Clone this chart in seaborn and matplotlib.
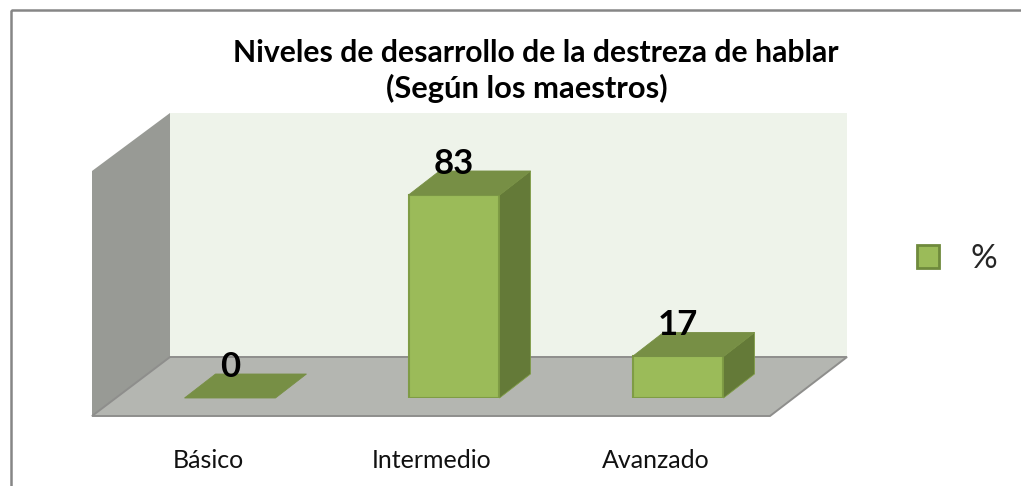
import matplotlib
matplotlib.use("Agg")
import matplotlib.pyplot as plt
import seaborn as sns
import pandas as pd
from matplotlib.patches import Patch, Polygon, Rectangle
from matplotlib.transforms import ScaledTranslation

# ── Data ────────────────────────────────────────────────────────────────────
niveles = ["Básico", "Intermedio", "Avanzado"]
valores = [0, 83, 17]
serie = "%"
titulo_1 = "Niveles de desarrollo de la destreza de hablar"
titulo_2 = "(Según los maestros)"

# ── Colours ─────────────────────────────────────────────────────────────────
FRONT, SIDE, TOP, EDGE = "#9BBB59", "#647A38", "#778F45", "#7F9C45"
BACK_WALL, LEFT_WALL, FLOOR = "#EEF3EA", "#989A95", "#B4B6B1"
W, H = 1021, 486

sns.set_theme(style="white")
plt.rcParams["font.family"] = ["Lato", "DejaVu Sans"]

fig = plt.figure(figsize=(W / 100, H / 100), dpi=100, facecolor="white")


def px_axes(x0, x1, y_top, y_bottom):
    return fig.add_axes([x0 / W, 1 - y_bottom / H, (x1 - x0) / W, (y_bottom - y_top) / H])


# Box behind the bars, in pixels
bg = fig.add_axes([0, 0, 1, 1])
bg.set_xlim(0, W)
bg.set_ylim(H, 0)
bg.axis("off")
bg.add_patch(Rectangle((10.5, 10), 1100, 600, fc="none", ec="#868686", lw=1.8))
bg.add_patch(Polygon([(170, 113), (847, 113), (847, 357), (170, 357)], fc=BACK_WALL, ec="none"))
bg.add_patch(Polygon([(92, 171), (170, 113), (170, 357), (92, 416)], fc=LEFT_WALL, ec="none"))
bg.add_patch(Polygon([(92, 416), (170, 357), (847, 357), (770, 416)], fc=FLOOR, ec="#8E8E8C", lw=1.4))

# Bars: x centres 229 / 453 / 677, zero line at y=398
ax = px_axes(118, 790, 153.4, 398)
df = pd.DataFrame({"nivel": niveles, "valor": valores})
sns.barplot(data=df, x="nivel", y="valor", color=FRONT, saturation=1, width=0.406,
            edgecolor=EDGE, linewidth=1.5, ax=ax, zorder=3)
ax.set_ylim(0, 100)
ax.set_xlim(-0.5, 2.5)
ax.patch.set_alpha(0)
sns.despine(ax=ax, left=True, bottom=True)
ax.set_xlabel("")
ax.set_ylabel("")
ax.set_yticks([])
ax.tick_params(axis="x", length=0, pad=37, labelsize=18, colors="#111111")

# Category labels sit left of the bars, as in the original
shift = ScaledTranslation(-22 / 100, 0, fig.dpi_scale_trans)
for lab in ax.get_xticklabels():
    lab.set_transform(lab.get_transform() + shift)

# Depth of the 3D look, as data units of this axes
dx = 31 / 224
dy = 24 / 2.446
bars = ax.containers[0]
for rect, v in zip(bars, valores):
    x0, x1 = rect.get_x(), rect.get_x() + rect.get_width()
    if v > 0:
        ax.add_patch(Polygon([(x1, 0), (x1 + dx, dy), (x1 + dx, v + dy), (x1, v)],
                             fc=SIDE, ec=EDGE, lw=0.6, zorder=3, clip_on=False))
    ax.add_patch(Polygon([(x0, v), (x1, v), (x1 + dx, v + dy), (x0 + dx, v + dy)],
                         fc=TOP, ec=TOP, lw=0.6, zorder=3, clip_on=False))

ax.bar_label(bars, labels=[str(v) for v in valores], padding=11, fontsize=25,
             fontweight="bold", color="black", zorder=5)
for t in ax.texts:
    t.set_zorder(5)

# The two title lines are not quite centred on each other in the original
fig.text(536 / W, 1 - 53 / H, titulo_1, ha="center", va="center", fontsize=21.7,
         fontweight="bold", color="black")
fig.text(527 / W, 1 - 88 / H, titulo_2, ha="center", va="center", fontsize=22.2,
         fontweight="bold", color="black")

fig.legend(handles=[Patch(fc=FRONT, ec="#6F8A3C", lw=2, label=serie)], loc="center left",
           bbox_to_anchor=(917 / W, 1 - 259 / H), frameon=False, fontsize=24,
           borderaxespad=0, borderpad=0, handlelength=0.66, handleheight=0.66,
           handletextpad=0.95)

fig.savefig("out.png", dpi=100)
